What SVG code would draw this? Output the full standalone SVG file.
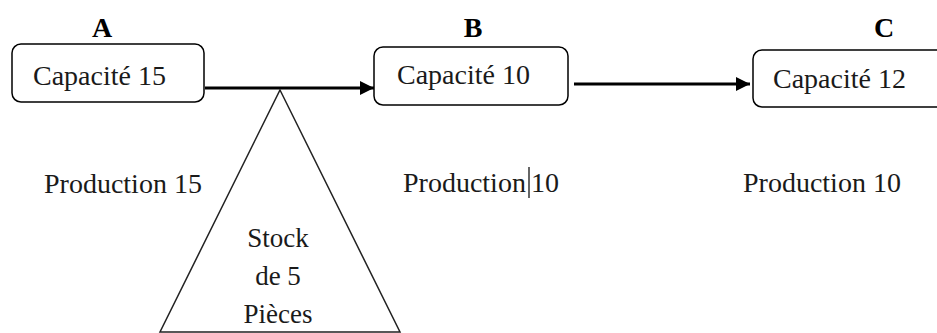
<svg xmlns="http://www.w3.org/2000/svg" width="937" height="333" viewBox="0 0 937 333">
  <style>
    .box { fill: none; stroke: #000000; stroke-width: 1.5; }
    .lbl { font-family: "Liberation Serif", "Times New Roman", serif; font-size: 28px; font-weight: bold; fill: #000; text-anchor: middle; }
    .prod { font-family: "Liberation Serif", "Times New Roman", serif; font-size: 28px; fill: #1a1a1a; }
    .stk { font-family: "Liberation Serif", "Times New Roman", serif; font-size: 27px; fill: #1a1a1a; text-anchor: middle; }
    .conn { stroke: #000; stroke-width: 3; fill: none; }
    .tri { fill: none; stroke: #222; stroke-width: 1.5; }
  </style>
  <defs>
    <marker id="arrow" markerUnits="userSpaceOnUse" markerWidth="16" markerHeight="16" refX="14" refY="7" orient="auto">
      <path d="M0,0 L14,7 L0,14 Z" fill="#000"/>
    </marker>
  </defs>
  <rect width="937" height="333" fill="#ffffff"/>

  <g id="connectors">
    <line class="conn" x1="205" y1="88" x2="374" y2="88" marker-end="url(#arrow)"/>
    <line class="conn" x1="574" y1="84" x2="750" y2="84" marker-end="url(#arrow)"/>
  </g>

  <g id="nodeA">
    <text class="lbl" x="102" y="37">A</text>
    <text class="prod" x="33" y="85">Capacité 15</text>
    <rect class="box" x="12" y="44" width="192" height="58" rx="9"/>
  </g>

  <g id="nodeB">
    <text class="lbl" x="473" y="37">B</text>
    <text class="prod" x="397" y="84">Capacité 10</text>
    <rect class="box" x="374" y="47" width="194" height="58" rx="9"/>
  </g>

  <g id="nodeC">
    <text class="lbl" x="884" y="37">C</text>
    <text class="prod" x="773" y="88">Capacité 12</text>
    <rect class="box" x="753" y="50" width="200" height="57" rx="9"/>
  </g>

  <g id="stock">
    <polygon class="tri" points="280,90 400,332 160,332"/>
    <text class="stk" x="278" y="247">Stock</text>
    <text class="stk" x="278" y="285">de 5</text>
    <text class="stk" x="278" y="323">Pièces</text>
  </g>

  <g id="productions">
    <text class="prod" x="44" y="193">Production 15</text>
    <text class="prod" x="403" y="192">Production</text>
    <line x1="529" y1="167" x2="529" y2="198" stroke="#000" stroke-width="1.2"/>
    <text class="prod" x="531" y="192">10</text>
    <text class="prod" x="743" y="192">Production 10</text>
  </g>
</svg>
